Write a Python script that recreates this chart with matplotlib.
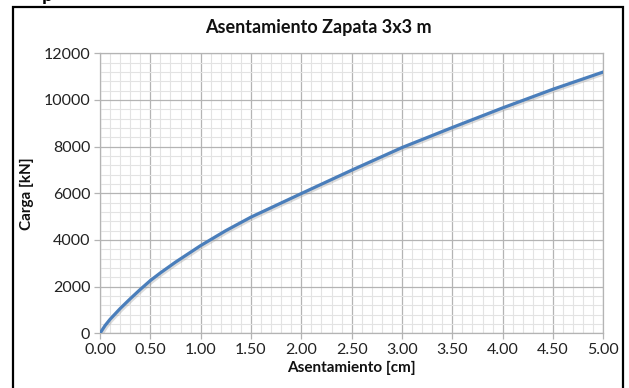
import matplotlib.pyplot as plt
import matplotlib as mpl
import matplotlib.patheffects as pe
from matplotlib.patches import Rectangle
from matplotlib.ticker import MultipleLocator

# --- Data -------------------------------------------------------

asentamiento = [0.0, 0.05, 0.1, 0.2, 0.3, 0.4, 0.5, 0.6, 0.75, 1.0, 1.25, 1.5,
                2.0, 2.5, 3.0, 3.5, 4.0, 4.5, 5.0]
carga = [0, 330, 600, 1060, 1480, 1880, 2260, 2590, 3050, 3760, 4400, 4980,
         5990, 6990, 7960, 8820, 9660, 10460, 11200]

x_ticks = [0.0, 0.5, 1.0, 1.5, 2.0, 2.5, 3.0, 3.5, 4.0, 4.5, 5.0]
y_ticks = [0, 2000, 4000, 6000, 8000, 10000, 12000]

# --- Style -------------------------------------------------------

mpl.rcParams["font.family"] = ["Lato", "DejaVu Sans"]

W, H = 629, 388
fig = plt.figure(figsize=(W / 100, H / 100), dpi=100)
ax = fig.add_axes([100 / W, 1 - 333.3 / H, 503.3 / W, 280 / H])

major_c = "#b4b4b4"
minor_c = "#e3e3e3"

ax.plot(
    asentamiento, carga,
    color="#4a7ebb", linewidth=2.3, solid_capstyle="round", solid_joinstyle="round",
    path_effects=[pe.SimpleLineShadow(offset=(1, -1.2), shadow_color="#999999", alpha=0.35),
                  pe.Normal()],
    zorder=3,
)

ax.set_xlim(0, 5)
ax.set_ylim(0, 12000)
ax.set_xticks(x_ticks)
ax.set_xticklabels([f"{v:.2f}" for v in x_ticks])
ax.set_yticks(y_ticks)
ax.xaxis.set_minor_locator(MultipleLocator(0.1))
ax.yaxis.set_minor_locator(MultipleLocator(400))

ax.grid(which="major", color=major_c, linewidth=0.9)
ax.grid(which="minor", color=minor_c, linewidth=0.8)
ax.set_axisbelow(True)

for side in ["top", "right", "left", "bottom"]:
    ax.spines[side].set_color(major_c)
    ax.spines[side].set_linewidth(0.9)

ax.tick_params(which="major", length=4, width=0.9, color=major_c,
               labelsize=11.5, labelcolor="#222222", pad=3)
ax.tick_params(which="minor", length=0)

ax.set_xlabel("Asentamiento [cm]", fontweight="bold", fontsize=11,
              color="#111111", labelpad=3)
ax.set_ylabel("Carga [kN]", fontweight="bold", fontsize=11,
              color="#111111", labelpad=7)

fig.text(318 / W, 1 - 27 / H, "Asentamiento Zapata 3x3 m", ha="center", va="center",
         fontsize=13, fontweight="bold", color="#111111")

# chart border (bottom cut off by the image)
fig.patches.append(Rectangle((13 / W, -0.05), 610 / W, 1.05 - 7 / H,
                             transform=fig.transFigure, fill=False,
                             edgecolor="black", linewidth=1.6, clip_on=False))

# heading fragment cut off at the top edge
fig.text(42 / W, 1 - 0.5 / H, "p", ha="left", va="baseline", fontsize=14,
         fontweight="bold", color="black")

fig.savefig("out.png", dpi=100)
